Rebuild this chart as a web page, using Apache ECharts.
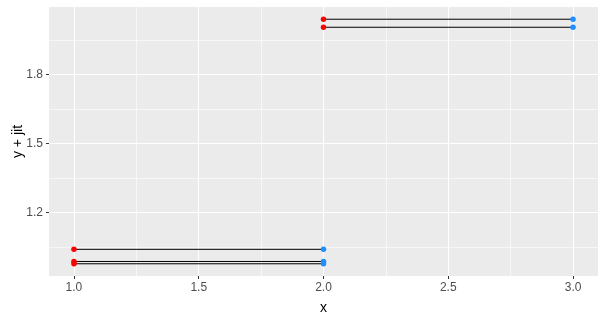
<!DOCTYPE html>
<html><head><meta charset="utf-8">
<script src="https://cdn.jsdelivr.net/npm/echarts@6/dist/echarts.min.js"></script>
<style>html,body{margin:0;padding:0;background:#fff}#c{width:606px;height:321px}</style>
</head><body><div id="c"></div>
<script>
const xStart = [1, 1, 1, 2, 2];
const xEnd = [2, 2, 2, 3, 3];
const yVals = [1.039, 0.986, 0.976, 2.042, 2.007];
const xTicks = [1, 1.5, 2, 2.5, 3];
const yTicks = [1.2, 1.5, 1.8];
const xMinor = [1.25, 1.75, 2.25, 2.75];
const yMinor = [1.05, 1.35, 1.65, 1.95];
const xRange = [0.9, 3.1];
const yRange = [0.9227, 2.0953];

const chart = echarts.init(document.getElementById('c'), null, {renderer: 'canvas'});
const font = 'Liberation Sans, Arial, sans-serif';

const gridMarks = [];
xMinor.forEach(v => gridMarks.push({xAxis: v, lineStyle: {width: 0.6}}));
yMinor.forEach(v => gridMarks.push({yAxis: v, lineStyle: {width: 0.6}}));
xTicks.forEach(v => gridMarks.push({xAxis: v, lineStyle: {width: 1.1}}));
yTicks.forEach(v => gridMarks.push({yAxis: v, lineStyle: {width: 1.1}}));

const series = [{
  type: 'line', data: [], z: 1, silent: true,
  markLine: {silent: true, z: 1, symbol: ['none', 'none'], label: {show: false},
    lineStyle: {color: '#ffffff', type: 'solid'}, emphasis: {disabled: true},
    animation: false, data: gridMarks}
}];
yVals.forEach((y, i) => {
  series.push({type: 'line', z: 2, showSymbol: false, silent: true,
    lineStyle: {color: '#000000', width: 1}, data: [[xStart[i], y], [xEnd[i], y]]});
});
series.push({type: 'scatter', z: 3, symbolSize: 5.5, itemStyle: {color: '#FF0000', borderWidth: 0, opacity: 1},
  data: yVals.map((y, i) => [xStart[i], y])});
series.push({type: 'scatter', z: 3, symbolSize: 5.5, itemStyle: {color: '#1E90FF', borderWidth: 0, opacity: 1},
  data: yVals.map((y, i) => [xEnd[i], y])});

chart.setOption({
  animation: false,
  grid: {left: 49, right: 8, top: 7, bottom: 45, show: true, backgroundColor: '#EBEBEB', borderWidth: 0,
    containLabel: false, outerBoundsMode: 'none'},
  xAxis: {
    type: 'value', min: xRange[0], max: xRange[1],
    name: 'x', nameLocation: 'middle', nameGap: 25, nameMoveOverlap: false,
    nameTextStyle: {fontFamily: font, fontSize: 14, color: '#000'},
    axisLine: {show: false}, splitLine: {show: false},
    axisTick: {show: true, length: 3, customValues: xTicks, lineStyle: {color: '#333333', width: 1}},
    axisLabel: {customValues: xTicks, formatter: v => v.toFixed(1), margin: 6,
      fontFamily: font, fontSize: 12, color: '#4D4D4D'}
  },
  yAxis: {
    type: 'value', min: yRange[0], max: yRange[1],
    name: 'y + jit', nameLocation: 'middle', nameGap: 24, nameMoveOverlap: false,
    nameTextStyle: {fontFamily: font, fontSize: 14, color: '#000'},
    axisLine: {show: false}, splitLine: {show: false},
    axisTick: {show: true, length: 3, customValues: yTicks, lineStyle: {color: '#333333', width: 1}},
    axisLabel: {customValues: yTicks, formatter: v => v.toFixed(1), margin: 6,
      fontFamily: font, fontSize: 12, color: '#4D4D4D'}
  },
  series: series
});
</script></body></html>
